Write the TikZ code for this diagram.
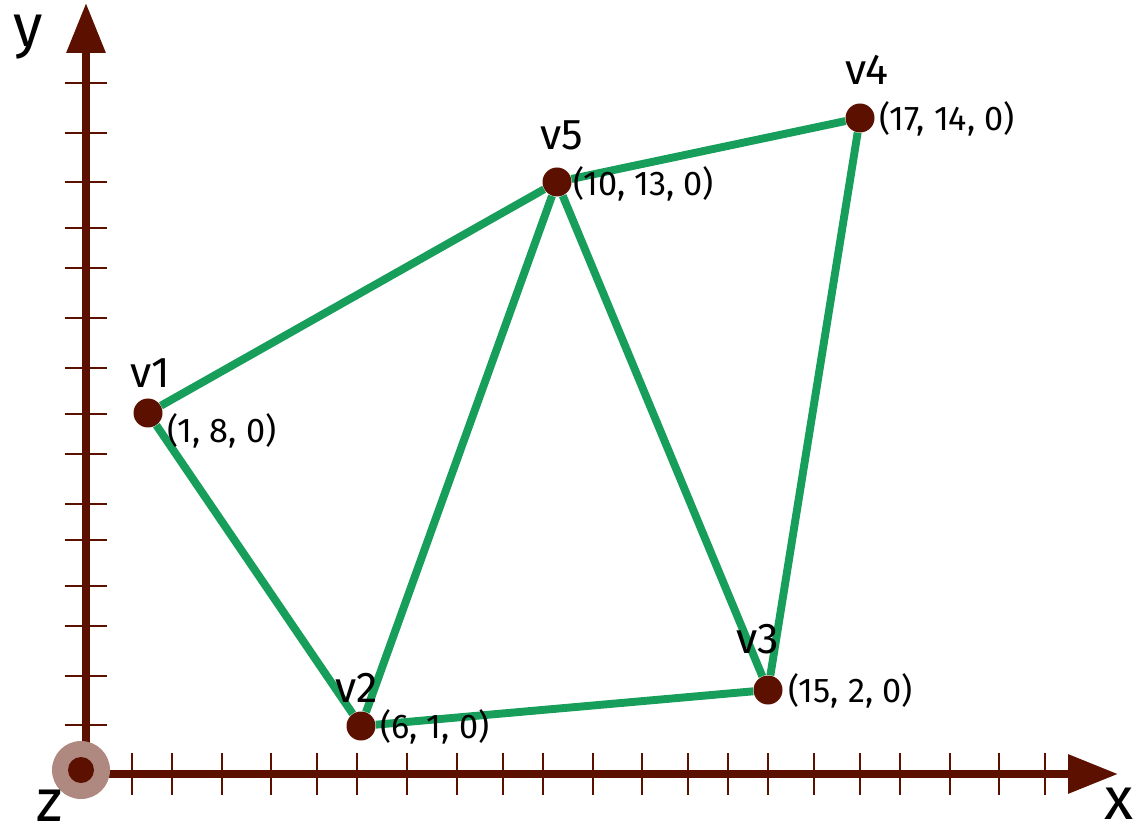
\documentclass[tikz,border=0pt]{standalone}
\usepackage{fontspec}
\setmainfont{Fira Sans}
\usetikzlibrary{arrows.meta}
\definecolor{axiscol}{RGB}{92,16,0}
\definecolor{origincol}{RGB}{175,136,128}
\definecolor{edgecol}{RGB}{22,158,90}
\tikzset{
  axisline/.style={line width=4.5pt, draw=axiscol, -{Triangle[length=1.0cm,width=0.75cm]}},
  tickline/.style={line width=1.2pt, draw=axiscol},
  vertexdot/.style={circle, fill=axiscol, inner sep=0pt, minimum size=0.58cm},
  edgeline/.style={line width=4.5pt, draw=edgecol},
  vlabel/.style={anchor=base, inner sep=0pt, font=\fontsize{24.5}{28}\selectfont},
  clabel/.style={anchor=west, inner sep=0pt, font=\fontsize{19.5}{23}\selectfont},
  axislabel/.style={anchor=base, inner sep=0pt, font=\fontsize{34}{40}\selectfont}
}
\begin{document}
\begin{tikzpicture}
\useasboundingbox (0,0) rectangle (22.760,-16.640);
% ticks on the y axis
\draw[tickline] (1.300,-1.660) -- (2.140,-1.660);
\draw[tickline] (1.300,-2.660) -- (2.140,-2.660);
\draw[tickline] (1.300,-3.640) -- (2.140,-3.640);
\draw[tickline] (1.300,-4.560) -- (2.140,-4.560);
\draw[tickline] (1.300,-5.360) -- (2.140,-5.360);
\draw[tickline] (1.300,-6.360) -- (2.140,-6.360);
\draw[tickline] (1.300,-7.360) -- (2.140,-7.360);
\draw[tickline] (1.300,-8.280) -- (2.140,-8.280);
\draw[tickline] (1.300,-9.080) -- (2.140,-9.080);
\draw[tickline] (1.300,-10.080) -- (2.140,-10.080);
\draw[tickline] (1.300,-10.800) -- (2.140,-10.800);
\draw[tickline] (1.300,-11.720) -- (2.140,-11.720);
\draw[tickline] (1.300,-12.520) -- (2.140,-12.520);
\draw[tickline] (1.300,-13.520) -- (2.140,-13.520);
\draw[tickline] (1.300,-14.500) -- (2.140,-14.500);
% ticks on the x axis
\draw[tickline] (2.640,-15.060) -- (2.640,-15.900);
\draw[tickline] (3.440,-15.060) -- (3.440,-15.900);
\draw[tickline] (4.440,-15.060) -- (4.440,-15.900);
\draw[tickline] (5.420,-15.060) -- (5.420,-15.900);
\draw[tickline] (6.340,-15.060) -- (6.340,-15.900);
\draw[tickline] (7.140,-15.060) -- (7.140,-15.900);
\draw[tickline] (8.140,-15.060) -- (8.140,-15.900);
\draw[tickline] (9.140,-15.060) -- (9.140,-15.900);
\draw[tickline] (10.060,-15.060) -- (10.060,-15.900);
\draw[tickline] (10.860,-15.060) -- (10.860,-15.900);
\draw[tickline] (11.860,-15.060) -- (11.860,-15.900);
\draw[tickline] (12.840,-15.060) -- (12.840,-15.900);
\draw[tickline] (13.760,-15.060) -- (13.760,-15.900);
\draw[tickline] (14.560,-15.060) -- (14.560,-15.900);
\draw[tickline] (15.360,-15.060) -- (15.360,-15.900);
\draw[tickline] (16.280,-15.060) -- (16.280,-15.900);
\draw[tickline] (17.200,-15.060) -- (17.200,-15.900);
\draw[tickline] (18.000,-15.060) -- (18.000,-15.900);
\draw[tickline] (19.000,-15.060) -- (19.000,-15.900);
\draw[tickline] (19.980,-15.060) -- (19.980,-15.900);
\draw[tickline] (20.900,-15.060) -- (20.900,-15.900);
% axes
\coordinate (origin) at (1.720,-15.480);
\coordinate (ytip) at (1.720,-0.060);
\coordinate (xtip) at (22.360,-15.480);
\draw[axisline] (origin) -- (ytip);
\draw[axisline] (origin) -- (xtip);
\fill[origincol] (1.620,-15.400) circle (0.580);
\fill[axiscol] (1.620,-15.400) circle (0.260);
\node[axislabel] (ylab) at (0.560,-0.940) {y};
\node[axislabel] (xlab) at (22.380,-16.380) {x};
\node[axislabel] (zlab) at (1.000,-16.420) {z};
% vertices
\node[vertexdot] (v1) at (2.960,-8.260) {};
\node[vertexdot] (v2) at (7.220,-14.520) {};
\node[vertexdot] (v3) at (15.360,-13.800) {};
\node[vertexdot] (v4) at (17.200,-2.360) {};
\node[vertexdot] (v5) at (11.140,-3.640) {};
% edges
\draw[edgeline] (v1) -- (v5);
\draw[edgeline] (v1) -- (v2);
\draw[edgeline] (v2) -- (v5);
\draw[edgeline] (v2) -- (v3);
\draw[edgeline] (v5) -- (v3);
\draw[edgeline] (v5) -- (v4);
\draw[edgeline] (v4) -- (v3);
% names and coordinates
\node[vlabel] (n1) at (3.000,-7.760) {v1};
\node[vlabel] (n2) at (7.140,-14.040) {v2};
\node[vlabel] (n3) at (15.160,-13.060) {v3};
\node[vlabel] (n4) at (17.340,-1.700) {v4};
\node[vlabel] (n5) at (11.240,-3.000) {v5};
\node[clabel] (c1) at (3.340,-8.620) {(1, 8, 0)};
\node[clabel] (c2) at (7.600,-14.540) {(6, 1, 0)};
\node[clabel] (c3) at (15.760,-13.820) {(15, 2, 0)};
\node[clabel] (c4) at (17.580,-2.380) {(17, 14, 0)};
\node[clabel] (c5) at (11.460,-3.680) {(10, 13, 0)};
\end{tikzpicture}
\end{document}
